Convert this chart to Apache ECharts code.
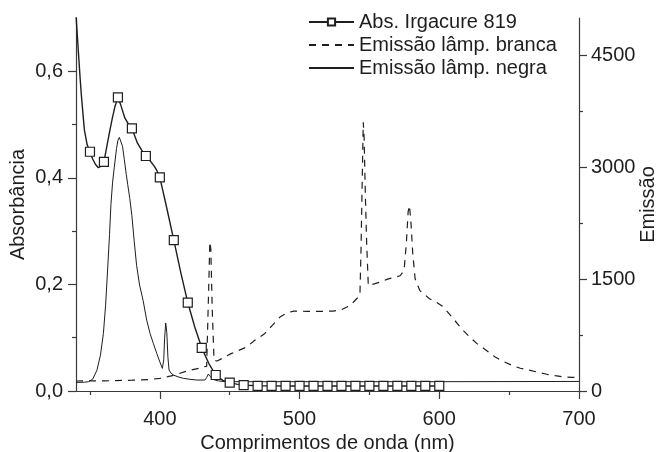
<!DOCTYPE html>
<html>
<head>
<meta charset="utf-8">
<script src="https://cdn.jsdelivr.net/npm/echarts@6/dist/echarts.min.js"></script>
<style>
html,body{margin:0;padding:0;background:#fff;}
#chart{width:659px;height:452px;}
</style>
</head>
<body>
<div id="chart"></div>
<script>
// ---- Data ----
var seriesNames = ['Abs. Irgacure 819', 'Emissão lâmp. branca', 'Emissão lâmp. negra'];

// Absorbance of Irgacure 819 (left axis)
var absWavelength = [340,341,342,343,344,346,348,350,352,354,356,358,360,362,364,366,368,370,372,375,378,380,384,387,390,393,396,398,400,405,410,415,420,425,430,435,440,445,450,455,460,470,480,490,500,510,520,530,540,550,560,570,580,590,600];
var absValue =      [0.705,0.665,0.625,0.585,0.550,0.490,0.462,0.449,0.435,0.425,0.419,0.422,0.430,0.458,0.486,0.512,0.535,0.551,0.537,0.512,0.499,0.493,0.465,0.452,0.441,0.432,0.422,0.413,0.401,0.343,0.283,0.222,0.166,0.120,0.081,0.052,0.030,0.020,0.0156,0.013,0.011,0.0098,0.0096,0.0095,0.0095,0.0095,0.0095,0.0095,0.0095,0.0095,0.0095,0.0095,0.0095,0.0095,0.0095];
var absMarkerWavelengths = [350,360,370,380,390,400,410,420,430,440,450,460,470,480,490,500,510,520,530,540,550,560,570,580,590,600];

// Emission of white lamp (right axis)
var whiteWavelength = [340,360,380,392,400,410,421,428,431,433.5,435,435.8,436.5,437.5,438.8,441,446,451,456,462,468,475,480,486,491,496,505,512,518,524,530,534,537,540,543.2,544,545,545.6,546.2,547,548,549.2,554,558,563,569,572,574.8,576.5,577.7,578.6,579.6,581,582.7,586,590,593,598,602,605,610,617,622,627,634,640,646,652,658,665,671,677,683,689,695,700];
var whiteValue =      [134,136,145,152,170,210,277,305,325,330,1400,2000,1900,1100,410,402,450,501,540,589,680,768,870,991,1050,1071,1068,1067,1068,1071,1090,1125,1161,1220,1282,1900,3000,3603,3400,2700,2000,1415,1440,1462,1500,1527,1545,1616,2000,2400,2487,2300,1850,1505,1349,1285,1237,1190,1140,1081,970,813,720,635,540,455,395,344,305,277,250,224,205,188,183,179];

// Emission of black-light lamp (right axis)
var blackWavelength = [340,346,349,352,355,357.5,359.6,361.2,362.7,364,365,366.2,367.4,369,370,371,372,373.3,374.6,376,377,378.5,380,381.7,383.4,385.5,388,390.6,393,395.3,397.8,400,401.8,402.8,403.4,404.2,405,405.8,406.6,408,409.7,413,416.8,421,426.4,432.3,433.5,434.7,436,437.1,439,442,446,450,500,600,700];
var blackValue =      [115,118,125,160,280,480,770,1150,1650,2100,2500,2800,3000,3250,3360,3400,3380,3280,3100,2900,2770,2580,2350,2000,1680,1420,1216,950,771,640,504,390,303,420,700,912,780,450,281,240,214,190,170,158,147,147,180,227,195,170,150,135,127,125,125,125,128];

// Axis ticks
var xMajorTicks = [400,500,600,700];
var xMinorTicks = [350,450,550,650];
var leftMajorTicks = [0,0.2,0.4,0.6];
var leftMinorTicks = [0.1,0.3,0.5];
var rightMajorTicks = [0,1500,3000,4500];
var rightMinorTicks = [750,2250,3750];

// ---- Build ----
function pairs(xs, ys){ return xs.map(function(x,i){ return [x, ys[i]]; }); }
var absData = absWavelength.map(function(x,i){
  var item = {value:[x, absValue[i]]};
  if (absMarkerWavelengths.indexOf(x) < 0) item.symbol = 'none';
  return item;
});

var FONT = 'Liberation Sans, Arial, sans-serif';
var INK = '#1e1e1e';
var AXIS = '#3a3a3a';
var CLEAR = 'rgba(0,0,0,0)';
var txt = {color: INK, fontFamily: FONT, fontSize: 20};

function majorAxisBase(){
  return {
    axisLine:{show:true, lineStyle:{color:AXIS, width:1.2}},
    splitLine:{show:false},
    axisTick:{show:true, inside:false, length:8, lineStyle:{color:AXIS, width:1.2}},
  };
}
function minorAxis(pos, min, max, ticks){
  return {
    type:'value', position:pos, min:min, max:max,
    axisLine:{show:false}, splitLine:{show:false},
    axisLabel:{show:false},
    axisTick:{show:true, inside:false, length:4, customValues:ticks, lineStyle:{color:AXIS, width:1.2}}
  };
}

var chart = echarts.init(document.getElementById('chart'), null, {renderer:'canvas'});
var x0 = Object.assign(majorAxisBase(), {
  type:'value', position:'bottom', min:340, max:700,
  name:'Comprimentos de onda (nm)', nameLocation:'middle', nameGap:42, nameMoveOverlap:false,
  nameTextStyle: txt,
  axisLabel: Object.assign({margin:18, customValues:xMajorTicks, formatter:function(v){return String(v);}}, txt),
});
x0.axisTick.customValues = xMajorTicks;
var y0 = Object.assign(majorAxisBase(), {
  type:'value', position:'left', min:0, max:0.7,
  name:'Absorbância', nameLocation:'middle', nameGap:48, nameMoveOverlap:false, nameTextStyle: txt,
  axisLabel: Object.assign({margin:13, customValues:leftMajorTicks,
    formatter:function(v){ return v.toFixed(1).replace('.', ','); }}, txt),
});
y0.axisTick.customValues = leftMajorTicks;
var y2 = Object.assign(majorAxisBase(), {
  type:'value', position:'right', min:0, max:5000,
  name:'Emissão', nameLocation:'middle', nameGap:59, nameMoveOverlap:false, nameTextStyle: txt,
  axisLabel: Object.assign({margin:12, customValues:rightMajorTicks, formatter:function(v){return String(v);}}, txt),
});
y2.axisTick.customValues = rightMajorTicks;

chart.setOption({
  animation:false,
  backgroundColor:'#fff',
  grid:{left:76, right:80, top:18, bottom:61, containLabel:false, outerBoundsMode:'none'},
  legend:{
    orient:'vertical', left:303, top:7, itemWidth:45, itemHeight:9, itemGap:3,
    textStyle:{color:INK, fontFamily:FONT, fontSize:20},
    data: seriesNames
  },
  xAxis:[x0, minorAxis('bottom',340,700,xMinorTicks)],
  yAxis:[y0, minorAxis('left',0,0.7,leftMinorTicks), y2, minorAxis('right',0,5000,rightMinorTicks)],
  series:[
    {
      name: seriesNames[1], type:'line', xAxisIndex:0, yAxisIndex:2,
      data: pairs(whiteWavelength, whiteValue), symbol:'circle', showSymbol:false,
      lineStyle:{color:INK, width:1.2, type:[7,6]},
      itemStyle:{color:CLEAR, borderColor:CLEAR, borderWidth:0}, z:2
    },
    {
      name: seriesNames[2], type:'line', xAxisIndex:0, yAxisIndex:2,
      data: pairs(blackWavelength, blackValue), symbol:'circle', showSymbol:false,
      lineStyle:{color:INK, width:1},
      itemStyle:{color:CLEAR, borderColor:CLEAR, borderWidth:0}, z:3
    },
    {
      name: seriesNames[0], type:'line', xAxisIndex:0, yAxisIndex:0,
      data: absData, symbol:'rect', symbolSize:9, showAllSymbol:true,
      lineStyle:{color:INK, width:1.4},
      itemStyle:{color:'#ffffff', borderColor:INK, borderWidth:1.2}, z:4
    }
  ]
});
</script>
</body>
</html>
